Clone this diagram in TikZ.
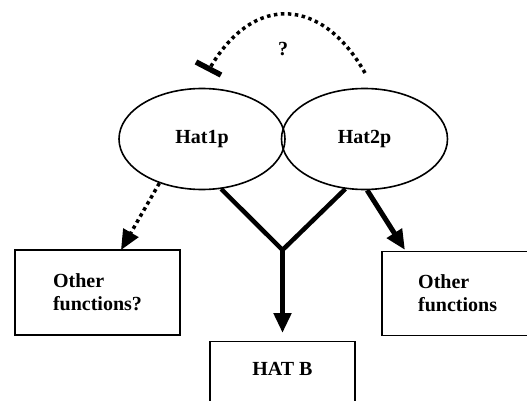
\documentclass[tikz,border=0pt]{standalone}
\usepackage{fontspec}
\setmainfont{Liberation Serif}
\usetikzlibrary{shapes.geometric,arrows.meta}

\begin{document}
\begin{tikzpicture}[x=1pt,y=-1pt,
  lbl/.style={font=\bfseries\fontsize{20}{23}\selectfont},
  protein/.style={ellipse, draw, line width=1.6pt, minimum width=166pt,
    minimum height=101pt, inner sep=0pt, lbl},
  fbox/.style={draw, line width=1.3pt, inner sep=0pt, lbl},
  thickline/.style={line width=4.5pt, line join=miter},
  bigtip/.style={-{Triangle[length=20pt,width=17pt]}},
  dots/.style={line width=3.5pt, dash pattern=on 3.5pt off 3.5pt},
]
\useasboundingbox (0,0) rectangle (527,401);
\clip (0,0) rectangle (527,401);

% the two proteins
\node[protein] (h1) at (202,139) {Hat1p};
\node[protein] (h2) at (364.5,139) {Hat2p};

% function boxes (the right one and HAT B run past the frame)
\node[fbox, minimum width=165pt, minimum height=85pt, align=left]
  (of1) at (97.5,292.5) {Other\\functions?};
\node[lbl, anchor=west, minimum width=220pt, minimum height=83pt,
  inner sep=0pt] (of2) at (382,293.5) {};
\draw[line width=1.3pt] (of2.north east) -- (of2.north west)
  -- (of2.south west) -- (of2.south east);
\node[lbl, anchor=west, align=left, inner sep=0pt] (of2l) at (418,293.5)
  {Other\\functions};
\node[fbox, anchor=north, minimum width=145pt, minimum height=90pt]
  (hatb) at (282.5,341) {};
\node[lbl] (hatbl) at (282.5,369) {HAT B};

% the complex feeding HAT B
\coordinate (j) at (282.5,250);
\draw[thickline] (h1.-69) -- (j) -- (h2.-111);
\draw[line width=5pt, bigtip, shorten >=8pt] (j) -- (hatb.north);

% Hat2p alone
\coordinate (t2) at (405,250);
\draw[line width=5pt, bigtip] (h2.-87) -- (t2);

% Hat1p alone (uncertain)
\coordinate (t1) at (121,250);
\draw[dots, bigtip] (h1.-134) -- (t1);

% possible inhibition of Hat1p by Hat2p
\coordinate (a0) at (365,73);
\coordinate (a1) at (210,68);
\draw[dots] (a0) .. controls (323,-2) and (254,-8) .. (a1);
\coordinate (b0) at (196,62);
\coordinate (b1) at (221,75);
\draw[line width=5.5pt] (b0) -- (b1);
\node[lbl] (q) at (283,49) {?};
\end{tikzpicture}
\end{document}
